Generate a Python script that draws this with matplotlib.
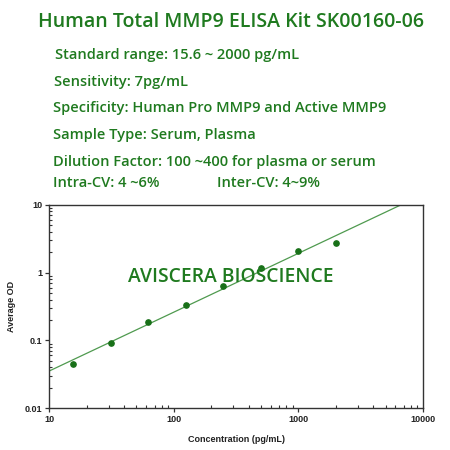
import numpy as np
import matplotlib
matplotlib.use("Agg")
import matplotlib.pyplot as plt
from matplotlib.ticker import LogLocator, FixedLocator, FixedFormatter, NullFormatter

GREEN = "#1f7a1f"

# standard curve
conc = [15.6, 31.25, 62.5, 125, 250, 500, 1000, 2000]
avg_od = [0.0455, 0.092, 0.185, 0.33, 0.64, 1.17, 2.08, 2.72]

# log-log fit line: log10(OD) = slope * log10(conc) + intercept
fit_slope = 0.867
fit_intercept = -2.317

x_ticks = [10, 100, 1000, 10000]
x_tick_labels = ["10", "100", "1000", "10000"]
y_ticks = [0.01, 0.1, 1, 10]
y_tick_labels = ["0.01", "0.1", "1", "10"]

title = "Human Total MMP9 ELISA Kit SK00160-06"
info_lines = [
    "Standard range: 15.6 ~ 2000 pg/mL",
    "Sensitivity: 7pg/mL",
    "Specificity: Human Pro MMP9 and Active MMP9",
    "Sample Type: Serum, Plasma",
    "Dilution Factor: 100 ~400 for plasma or serum",
    "Intra-CV: 4 ~6%",
]
inter_cv = "Inter-CV: 4~9%"

W = H = 450
fig = plt.figure(figsize=(4.5, 4.5), dpi=100)


def fx(px):
    return px / W


def fy(px):
    return 1 - px / H


txt_font = dict(family="Open Sans", weight="semibold", color=GREEN)
fig.text(fx(230.5), fy(22), title, ha="center", va="center", fontsize=14, **txt_font)
info_x = [55, 54, 53, 53, 53, 53]
info_y = [55, 82, 108, 135, 162, 183]
for s, x, y in zip(info_lines, info_x, info_y):
    fig.text(fx(x), fy(y), s, ha="left", va="center", fontsize=10.5, **txt_font)
fig.text(fx(217), fy(183), inter_cv, ha="left", va="center", fontsize=10.5, **txt_font)

ax = fig.add_axes([fx(49.3), fy(408.3), fx(423 - 49.3), (408.3 - 204.7) / H])
ax.set_xscale("log")
ax.set_yscale("log")
ax.set_xlim(10, 10000)
ax.set_ylim(0.01, 10)

xl = np.logspace(1, 4, 200)
ax.plot(xl, 10 ** (fit_slope * np.log10(xl) + fit_intercept), color="#4f9a4f", lw=0.9, zorder=2)
ax.plot(conc, avg_od, "o", color="#187018", ms=3.8, zorder=3)

ax.text(284, 0.87, "AVISCERA BIOSCIENCE", ha="center", va="center",
        fontsize=13.9, zorder=4, **txt_font)

for sp in ax.spines.values():
    sp.set_color("#333333")
    sp.set_linewidth(1.0)

ax.xaxis.set_major_locator(FixedLocator(x_ticks))
ax.xaxis.set_major_formatter(FixedFormatter(x_tick_labels))
ax.yaxis.set_major_locator(FixedLocator(y_ticks))
ax.yaxis.set_major_formatter(FixedFormatter(y_tick_labels))
ax.xaxis.set_minor_locator(LogLocator(base=10, subs=np.arange(2, 10)))
ax.yaxis.set_minor_locator(LogLocator(base=10, subs=np.arange(2, 10)))
ax.xaxis.set_minor_formatter(NullFormatter())
ax.yaxis.set_minor_formatter(NullFormatter())
ax.tick_params(which="major", direction="out", length=3, width=0.9, color="#333333", pad=2,
               labelsize=6.5)
ax.tick_params(which="minor", direction="in", length=2, width=0.8, color="#333333")
for lab in ax.get_xticklabels() + ax.get_yticklabels():
    lab.set_fontfamily("Liberation Sans")
    lab.set_fontweight("bold")
    lab.set_color("#222222")

ax.set_xlabel("Concentration (pg/mL)", family="Liberation Sans", weight="bold", fontsize=6.5,
              color="#222222", labelpad=8)
ax.set_ylabel("Average OD", family="Liberation Sans", weight="bold", fontsize=6.5,
              color="#222222", labelpad=6)

fig.savefig("out.png", dpi=100)
